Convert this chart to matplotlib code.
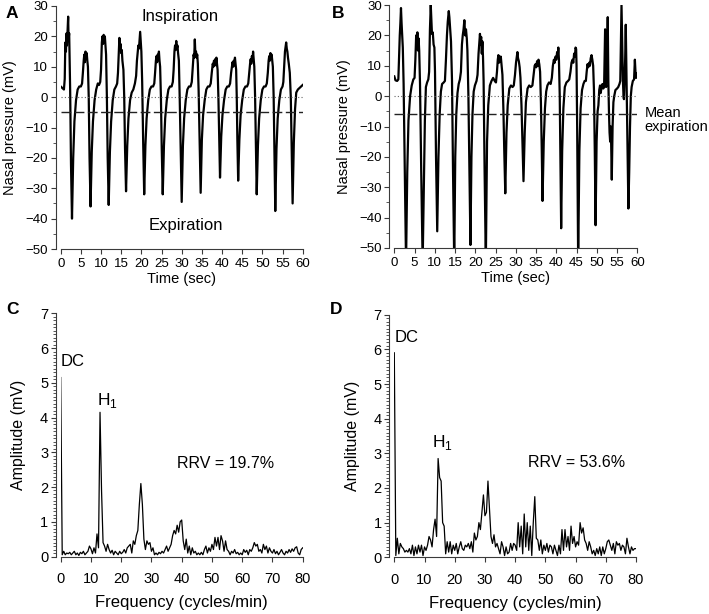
import numpy as np
import matplotlib
matplotlib.use("Agg")
import matplotlib.pyplot as plt
from matplotlib.ticker import MultipleLocator

plt.rcParams['font.family'] = ['Liberation Sans', 'DejaVu Sans']

# ---------------- data ----------------
# Panel A: nasal pressure trace (time s, pressure mV)
a_points = [
    (0.0, 3.5), (0.4, 3.0), (0.8, 2.5), (1.0, 6), (1.15, 18), (1.3, 15), (1.45, 21), (1.55, 17),
    (1.7, 22), (1.85, 26.5), (1.95, 19), (2.1, 21), (2.2, 14), (2.35, 2), (2.55, -22), (2.8, -40),
    (3.1, -20), (3.4, -8), (3.8, -1), (4.2, 2.5), (4.6, 3.5), (5.0, 3.5), (5.3, 4.5), (5.5, 8),
    (5.7, 12), (5.85, 14), (6.0, 11.5), (6.15, 15), (6.3, 13), (6.45, 14.5), (6.6, 12), (6.75, 10),
    (6.95, 0), (7.15, -20), (7.4, -36),
    (7.7, -18), (8.0, -8), (8.4, -1), (8.8, 2.5), (9.2, 4.5), (9.5, 4), (9.8, 5), (10.0, 9),
    (10.2, 18), (10.35, 20), (10.5, 17.5), (10.65, 20.5), (10.8, 19), (10.95, 20), (11.1, 17),
    (11.25, 14), (11.45, 0), (11.65, -20), (11.9, -35.5),
    (12.2, -18), (12.5, -8), (12.9, -1), (13.3, 2.5), (13.7, 3.5), (14.0, 4.5), (14.2, 8),
    (14.4, 15), (14.55, 19.5), (14.7, 16), (14.85, 17.5), (15.0, 14.5), (15.15, 15.5), (15.3, 12),
    (15.55, 9), (15.75, 0), (15.95, -17), (16.2, -31),
    (16.5, -16), (16.8, -7), (17.2, -1), (17.6, 1.5), (18.0, 2.5), (18.4, 4.5), (18.7, 7),
    (18.9, 12), (19.1, 15), (19.25, 17), (19.4, 16), (19.55, 19), (19.7, 21.5), (19.85, 18),
    (20.0, 15), (20.2, 5), (20.45, -15), (20.7, -32),
    (21.0, -16), (21.3, -7), (21.7, -1), (22.1, 2.5), (22.5, 3.5), (22.9, 3.5), (23.2, 4.5),
    (23.4, 8), (23.6, 12), (23.75, 13.5), (23.9, 11.5), (24.05, 14), (24.2, 12.5), (24.35, 15),
    (24.5, 12), (24.65, 10), (24.85, 0), (25.05, -17), (25.3, -32),
    (25.6, -16), (25.9, -7), (26.3, -1), (26.7, 2.5), (27.1, 3.5), (27.5, 3.5), (27.8, 5),
    (28.0, 9), (28.2, 15), (28.35, 17), (28.5, 15.5), (28.65, 18.5), (28.8, 16), (28.95, 17),
    (29.1, 14.5), (29.3, 12), (29.5, 0), (29.75, -18), (30.0, -34.5),
    (30.3, -16), (30.6, -7), (31.0, -1), (31.4, 2.5), (31.8, 3.5), (32.2, 3.5), (32.5, 5),
    (32.75, 10), (32.95, 14), (33.1, 13), (33.25, 19), (33.4, 14), (33.55, 15), (33.7, 13),
    (33.85, 14), (34.0, 11), (34.2, 2), (34.45, -15), (34.7, -31.5),
    (35.0, -14), (35.3, -6), (35.7, -1), (36.1, 2.5), (36.5, 3.5), (36.9, 3.5), (37.2, 4.5),
    (37.45, 8), (37.7, 11), (37.85, 10), (38.0, 12), (38.15, 10.5), (38.3, 12.5), (38.45, 10.5),
    (38.6, 13), (38.75, 11), (38.9, 9), (39.1, 0), (39.3, -14), (39.5, -26.5),
    (39.8, -13), (40.1, -6), (40.5, -1), (40.9, 2.5), (41.3, 3.5), (41.7, 3.5), (42.0, 4.5),
    (42.25, 8), (42.45, 10), (42.6, 11.5), (42.75, 10), (42.9, 12), (43.05, 10.5), (43.2, 13),
    (43.35, 11), (43.5, 9), (43.65, 0), (43.8, -14), (44.0, -27.5),
    (44.3, -14), (44.6, -6), (45.0, -1), (45.4, 2.5), (45.8, 3.5), (46.2, 3.5), (46.5, 4.5),
    (46.75, 8), (46.95, 11), (47.1, 12.5), (47.25, 11), (47.4, 13.5), (47.55, 12), (47.7, 15),
    (47.85, 12.5), (48.0, 10), (48.2, 0), (48.4, -16), (48.6, -32),
    (48.9, -16), (49.2, -7), (49.6, -1), (50.0, 2.5), (50.4, 3.5), (50.8, 3.5), (51.1, 4.5),
    (51.35, 8), (51.55, 12), (51.7, 13.5), (51.85, 12), (52.0, 14.5), (52.15, 13), (52.3, 14),
    (52.45, 12), (52.6, 10), (52.8, 0), (53.0, -18), (53.2, -37.5),
    (53.5, -17), (53.8, -7), (54.2, -1), (54.6, 2.5), (55.0, 3.5), (55.2, 5), (55.4, 10),
    (55.6, 15), (55.75, 16.5), (55.9, 18), (56.05, 16), (56.2, 15), (56.35, 13), (56.55, 11),
    (56.8, 8), (57.05, 0), (57.25, -15), (57.5, -35),
    (57.8, -15), (58.1, -4), (58.4, 1.5), (58.8, 2.5), (59.2, 3), (59.6, 3.5), (60.0, 4),
]

# Panel B: nasal pressure trace (time s, pressure mV); troughs below -50 run off the axis
b_points = [
    (0.0, 6.5), (0.3, 5.2), (0.7, 5.0), (1.0, 5.5), (1.15, 12), (1.35, 20), (1.5, 24), (1.65, 29),
    (1.8, 24), (1.95, 20), (2.1, 16), (2.3, 4), (2.6, -25), (2.9, -55),
    (3.2, -25), (3.5, -8), (3.9, 0), (4.3, 3.5), (4.7, 5.5), (5.0, 6), (5.2, 12), (5.4, 20),
    (5.55, 16), (5.7, 21), (5.85, 15), (6.0, 19), (6.15, 15), (6.35, 4), (6.65, -25), (7.0, -55),
    (7.3, -30), (7.55, -8), (7.8, 3), (8.1, 4.5), (8.4, 5.5), (8.6, 8), (8.8, 22), (9.0, 30),
    (9.15, 25), (9.3, 20.5), (9.5, 21), (9.7, 17), (9.9, 16), (10.05, 8), (10.3, -20), (10.6, -44.5),
    (10.9, -20), (11.2, -6), (11.5, 1.5), (11.8, 4), (12.2, 4.5), (12.5, 5), (12.75, 12), (13.0, 20),
    (13.2, 24.5), (13.45, 28), (13.6, 26), (13.8, 22), (14.0, 18), (14.25, 5), (14.5, -25), (14.8, -55),
    (15.05, -20), (15.3, -6), (15.6, 1), (15.9, 4), (16.2, 5.5), (16.45, 8), (16.7, 17), (16.9, 20),
    (17.1, 22), (17.3, 25), (17.5, 20), (17.7, 22), (17.9, 19), (18.05, 15), (18.3, 0), (18.55, -25),
    (18.8, -49),
    (19.05, -20), (19.3, -6), (19.6, 1.5), (19.9, 3.5), (20.3, 5), (20.55, 7), (20.8, 14), (21.0, 18),
    (21.15, 20.5), (21.3, 17), (21.45, 19.5), (21.6, 14), (21.75, 18), (21.9, 13), (22.05, 5),
    (22.3, -25), (22.6, -55),
    (22.9, -15), (23.2, -3), (23.6, 3.5), (24.0, 5), (24.4, 6), (24.8, 5), (25.1, 4.5), (25.35, 8),
    (25.55, 12), (25.7, 13.5), (25.85, 11), (26.0, 13), (26.15, 11.5), (26.3, 13), (26.5, 10),
    (26.7, 7), (26.95, -5), (27.15, -18), (27.4, -32),
    (27.7, -12), (28.0, -3), (28.4, 2.5), (28.8, 3.5), (29.2, 3), (29.5, 3.5), (29.8, 7), (30.05, 11),
    (30.25, 13), (30.4, 14.5), (30.55, 12.5), (30.75, 11.5), (30.95, 9.5), (31.15, 6), (31.4, -3),
    (31.65, -15), (31.9, -28),
    (32.2, -12), (32.5, -2), (32.9, 2.5), (33.3, 3.5), (33.7, 3), (34.1, 3.5), (34.4, 7), (34.65, 10),
    (34.85, 10.5), (35.05, 9.5), (35.25, 11.5), (35.45, 10), (35.6, 12), (35.8, 10.5), (36.0, 8),
    (36.2, -2), (36.4, -17), (36.6, -34.5),
    (36.9, -15), (37.2, -4), (37.5, 1.5), (37.8, 3.5), (38.2, 4.5), (38.6, 4), (38.9, 6), (39.15, 10),
    (39.4, 12), (39.6, 11), (39.8, 13), (40.0, 12), (40.2, 14.5), (40.35, 13), (40.5, 16), (40.65, 12),
    (40.85, 0), (41.0, -20), (41.2, -43.5),
    (41.45, -18), (41.75, -4), (42.1, 3), (42.5, 4.5), (42.9, 5), (43.2, 5.5), (43.5, 8), (43.75, 11),
    (44.0, 12), (44.2, 11), (44.4, 14), (44.6, 13), (44.75, 16), (44.9, 15.5), (45.0, 10),
    (45.15, -10), (45.4, -55),
    (45.7, -18), (46.0, -4), (46.35, 2), (46.7, 4), (47.0, 5), (47.3, 5), (47.5, 8), (47.7, 10.5),
    (47.9, 9.5), (48.1, 11), (48.3, 10), (48.5, 12.5), (48.7, 13.5), (48.9, 12), (49.1, 10),
    (49.3, 2), (49.5, -18), (49.7, -42.5),
    (49.95, -15), (50.2, -5), (50.4, -3), (50.6, 2), (50.8, 3.5), (50.95, 1), (51.2, 3), (51.4, 4),
    (51.6, 2.5), (51.8, 3), (51.95, 15), (52.05, 22), (52.15, 5), (52.3, 3), (52.4, 16), (52.5, 8),
    (52.7, 26), (52.85, 5), (53.0, -5), (53.15, -12), (53.3, -15), (53.45, -10), (53.55, -16),
    (53.7, -27.5),
    (53.9, -10), (54.1, -2), (54.3, 0), (54.6, 2), (55.0, 2.5), (55.3, 3), (55.6, 4), (55.8, 5),
    (55.95, 18), (56.1, 30), (56.25, 20), (56.45, 5), (56.6, 0), (56.7, -1), (56.85, 5), (57.0, 12),
    (57.15, 23.5), (57.35, 5), (57.55, -15), (57.8, -37),
    (58.0, -25), (58.2, -10), (58.4, 0), (58.6, 3), (58.9, 5), (59.2, 5.5), (59.4, 12), (59.55, 8),
    (59.7, 6), (59.85, 7.5), (60.0, 6.5),
]

a_mean_expiration = -5.0
b_mean_expiration = -5.8

# Panel C / D: amplitude spectra, sampled every 0.5 cycles/min from 0 to 80
freq_step = 0.5
c_amplitude = [
    5.15, 0.05, 0.15, 0.05, 0.1, 0.08, 0.12, 0.05, 0.1, 0.15,      # 0 - 4.5
    0.05, 0.1, 0.03, 0.12, 0.08, 0.15, 0.05, 0.1, 0.15, 0.3,       # 5 - 9.5
    0.22, 0.08, 0.25, 0.1, 0.65, 0.25, 4.15, 1.9, 0.4, 0.3,        # 10 - 14.5
    0.15, 0.35, 0.2, 0.1, 0.18, 0.05, 0.15, 0.1, 0.05, 0.15,       # 15 - 19.5
    0.08, 0.12, 0.2, 0.1, 0.25, 0.3, 0.35, 0.1, 0.45, 0.35,        # 20 - 24.5
    0.6, 0.75, 1.5, 2.1, 1.5, 0.5, 0.2, 0.45, 0.35, 0.4,           # 25 - 29.5
    0.15, 0.25, 0.05, 0.1, 0.05, 0.12, 0.08, 0.15, 0.1, 0.2,       # 30 - 34.5
    0.3, 0.15, 0.25, 0.35, 0.6, 0.75, 0.65, 0.9, 0.7, 1.0,         # 35 - 39.5
    1.05, 0.45, 0.2, 0.5, 0.1, 0.3, 0.05, 0.25, 0.1, 0.15,         # 40 - 44.5
    0.05, 0.1, 0.05, 0.12, 0.05, 0.2, 0.3, 0.1, 0.25, 0.15,        # 45 - 49.5
    0.35, 0.2, 0.55, 0.3, 0.55, 0.2, 0.6, 0.45, 0.15, 0.45,        # 50 - 54.5
    0.2, 0.15, 0.05, 0.15, 0.1, 0.2, 0.08, 0.12, 0.05, 0.1,        # 55 - 59.5
    0.05, 0.2, 0.12, 0.18, 0.05, 0.2, 0.15, 0.25, 0.4, 0.3,        # 60 - 64.5
    0.35, 0.15, 0.2, 0.1, 0.35, 0.2, 0.3, 0.1, 0.25, 0.15,         # 65 - 69.5
    0.1, 0.2, 0.08, 0.15, 0.05, 0.12, 0.2, 0.1, 0.05, 0.15,        # 70 - 74.5
    0.1, 0.2, 0.12, 0.22, 0.15, 0.25, 0.28, 0.1, 0.05, 0.2,        # 75 - 79.5
    0.25,                                                          # 80
]
d_amplitude = [
    5.9, 0.05, 0.55, 0.1, 0.4, 0.3, 0.25, 0.15, 0.2, 0.15,         # 0 - 4.5
    0.25, 0.1, 0.35, 0.05, 0.3, 0.1, 0.35, 0.15, 0.35, 0.05,       # 5 - 9.5
    0.3, 0.2, 0.35, 0.6, 0.5, 0.3, 0.8, 1.1, 0.6, 2.85,            # 10 - 14.5
    2.3, 2.2, 1.0, 0.9, 0.1, 0.45, 0.15, 0.45, 0.1, 0.35,          # 15 - 19.5
    0.2, 0.4, 0.1, 0.3, 0.45, 0.25, 0.2, 0.35, 0.3, 0.4,           # 20 - 24.5
    0.25, 0.45, 0.15, 0.7, 0.5, 0.6, 1.0, 0.8, 1.3, 1.8,           # 25 - 29.5
    1.2, 1.3, 2.2, 1.4, 0.6, 0.4, 0.65, 0.3, 0.4, 0.25,            # 30 - 34.5
    0.1, 0.45, 0.3, 0.05, 0.3, 0.1, 0.15, 0.4, 0.2, 0.4,           # 35 - 39.5
    0.35, 0.2, 1.0, 0.3, 0.9, 0.1, 1.25, 0.3, 1.0, 0.2,            # 40 - 44.5
    0.9, 0.05, 1.0, 1.75, 0.55, 0.5, 0.2, 0.5, 0.1, 0.35,          # 45 - 49.5
    0.2, 0.4, 0.15, 0.35, 0.3, 0.1, 0.35, 0.2, 0.05, 0.35,         # 50 - 54.5
    0.1, 0.8, 0.2, 0.8, 0.3, 0.6, 0.2, 0.9, 0.4, 0.6,              # 55 - 59.5
    0.3, 0.45, 0.35, 1.0, 0.7, 0.85, 0.5, 0.4, 0.2, 0.45,          # 60 - 64.5
    0.3, 0.1, 0.2, 0.05, 0.25, 0.1, 0.3, 0.05, 0.3, 0.1,           # 65 - 69.5
    0.25, 0.45, 0.5, 0.35, 0.2, 0.4, 0.1, 0.45, 0.35, 0.4,         # 70 - 74.5
    0.2, 0.35, 0.3, 0.1, 0.55, 0.3, 0.1, 0.3, 0.2, 0.25,           # 75 - 79.5
    0.25,                                                          # 80
]
c_rrv = "RRV = 19.7%"
d_rrv = "RRV = 53.6%"

# ---------------- figure ----------------
W, H = 709, 614
fig = plt.figure(figsize=(W / 100, H / 100), dpi=100)

def px_axes(x0, y0, x1, y1):
    return fig.add_axes([x0 / W, 1 - y1 / H, (x1 - x0) / W, (y1 - y0) / H])

axA = px_axes(60.7, 6, 302.7, 249)
axB = px_axes(394.3, 5, 637.3, 248)
axC = px_axes(60.7, 313.3, 302.7, 556.5)
axD = px_axes(394.3, 314.7, 636.0, 557.3)

spine_col = '#3a3a3a'

def style(ax, tick_fs, xpad):
    for s in ('top', 'right'):
        ax.spines[s].set_visible(False)
    ax.spines['left'].set_position(('outward', 3.5))
    for s in ('left', 'bottom'):
        ax.spines[s].set_color(spine_col)
        ax.spines[s].set_linewidth(0.8)
    ax.tick_params(which='major', direction='out', length=3.5, width=0.8,
                   color=spine_col, labelsize=tick_fs, pad=2)
    ax.tick_params(axis='x', which='major', pad=xpad)
    ax.tick_params(which='minor', direction='out', length=2, width=0.6, color=spine_col)
    ax.tick_params(axis='x', which='minor', bottom=False)

# --- A and B ---
for ax, pts, mean_exp in ((axA, a_points, a_mean_expiration), (axB, b_points, b_mean_expiration)):
    t = [p[0] for p in pts]
    v = [p[1] for p in pts]
    ax.plot(t, v, color='black', lw=1.6, solid_joinstyle='round')
    ax.axhline(0, color='#666666', lw=0.8, ls=(0, (1, 2)))
    ax.axhline(mean_exp, color='#222222', lw=1.0, ls=(0, (7, 2.5)))
    ax.set_xlim(0, 60)
    ax.set_ylim(-50, 30)
    ax.xaxis.set_major_locator(MultipleLocator(5))
    ax.yaxis.set_major_locator(MultipleLocator(10))
    ax.yaxis.set_minor_locator(MultipleLocator(5))
    style(ax, 9.5, 3)
    ax.set_xlabel('Time (sec)', fontsize=10.5, labelpad=1.5)
    ax.set_ylabel('Nasal pressure (mV)', fontsize=10.5, labelpad=6)

axA.text(29.6, 26.5, 'Inspiration', ha='center', va='center', fontsize=12)
axA.text(31.0, -42.3, 'Expiration', ha='center', va='center', fontsize=12)
axB.text(61.8, -8.0, 'Mean\nexpiration', ha='left', va='center', fontsize=10.5,
         linespacing=1.0, clip_on=False)

# --- C and D ---
for ax, amp, rrv, dc_y, h_xy, rrv_xy in (
        (axC, c_amplitude, c_rrv, 5.6, (11.9, 4.5), (38.4, 2.68)),
        (axD, d_amplitude, d_rrv, 6.35, (12.4, 3.3), (44.1, 2.74))):
    f = np.arange(len(amp)) * freq_step
    ax.plot(f, amp, color='black', lw=0.9)
    ax.set_xlim(0, 80)
    ax.set_ylim(0, 7)
    ax.xaxis.set_major_locator(MultipleLocator(10))
    ax.yaxis.set_major_locator(MultipleLocator(1))
    ax.yaxis.set_minor_locator(MultipleLocator(0.1))
    style(ax, 10.5, 8)
    ax.set_xlabel('Frequency (cycles/min)', fontsize=12, labelpad=6)
    ax.set_ylabel('Amplitude (mV)', fontsize=11.5, labelpad=10)
    ax.text(0, dc_y, 'DC', ha='left', va='center', fontsize=12)
    ax.text(h_xy[0], h_xy[1], r'H$_\mathregular{1}$', ha='left', va='center', fontsize=12.5)
    ax.text(rrv_xy[0], rrv_xy[1], rrv, ha='left', va='center', fontsize=11.5)

# panel letters
for lab, x, y in (('A', 12, 13), ('B', 338, 13), ('C', 12, 310), ('D', 336, 310)):
    fig.text(x / W, 1 - y / H, lab, fontsize=12.5, fontweight='bold', ha='center', va='center')

fig.savefig('out.png', dpi=100)
